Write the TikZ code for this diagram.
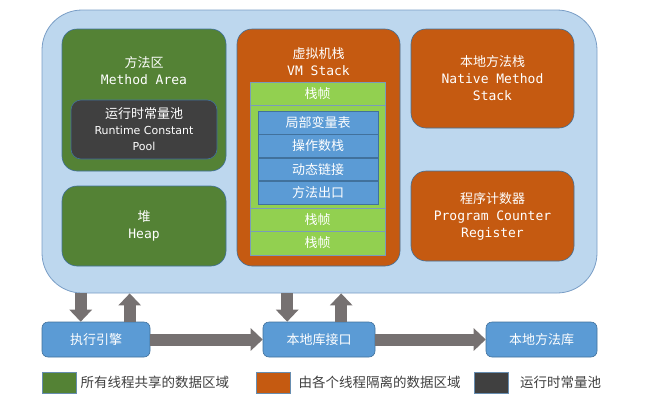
\documentclass[tikz,border=0pt]{standalone}
\usepackage{fontspec}
\usepackage{tikz}
\usetikzlibrary{arrows.meta,calc,positioning}

\newfontfamily\cjk{Noto Sans CJK SC}
\newfontfamily\mono{DejaVu Sans Mono}
\newfontfamily\verd{DejaVu Sans}

\definecolor{jvmbg}{HTML}{BDD7EE}
\definecolor{jvmline}{HTML}{7A9EC6}
\definecolor{shared}{HTML}{548235}
\definecolor{private}{HTML}{C55A11}
\definecolor{poolgray}{HTML}{404040}
\definecolor{framegreen}{HTML}{92D050}
\definecolor{slotblue}{HTML}{5B9BD5}
\definecolor{edgeblue}{HTML}{41719C}
\definecolor{arrowgray}{HTML}{767171}
\definecolor{keytext}{HTML}{3F3F3F}

\tikzset{
	area/.style={draw=edgeblue, line width=0.6pt, rounded corners=15pt, inner sep=0pt,
		text=white, align=center, font=\fontsize{13}{17}\selectfont},
	areatitle/.style={inner sep=0pt, text=white, align=center, font=\fontsize{13}{17}\selectfont},
	frame/.style={draw=edgeblue!70, line width=0.6pt, fill=framegreen, minimum width=135pt,
		inner sep=0pt, text=white, font=\cjk\fontsize{13}{16}\selectfont},
	slot/.style={draw=edgeblue, line width=0.6pt, fill=slotblue, minimum width=120pt,
		minimum height=22.75pt, inner sep=0pt, text=white, font=\cjk\fontsize{13}{16}\selectfont},
	module/.style={draw=edgeblue, line width=0.6pt, fill=slotblue, rounded corners=6pt,
		minimum height=35pt, inner sep=0pt, text=white, font=\cjk\fontsize{13}{16}\selectfont},
	flow/.style={arrowgray, line width=12pt, -{Triangle[width=22pt,length=12pt]}},
	swatch/.style={draw=edgeblue!80, line width=0.6pt, minimum width=34pt, minimum height=21pt, inner sep=0pt},
	keylabel/.style={inner sep=0pt, text=keytext, font=\cjk\fontsize{13.5}{16}\selectfont}
}

\begin{document}
\begin{tikzpicture}[x=1pt,y=-1pt]
	\useasboundingbox (0,0) rectangle (645,413);
	
	% Define the runtime data area
	\node[draw=jvmline, line width=0.8pt, fill=jvmbg, rounded corners=40pt,
		minimum width=555pt, minimum height=283pt] (jvm) at (319.5,151.5) {};
	
	% Shared areas
	\node[area, fill=shared, minimum width=164pt, minimum height=142pt] (method) at (144,100) {};
	\node[areatitle] (methodtitle) at (144,70.5) {{\cjk 方法区}\\{\mono Method Area}};
	\node[area, fill=poolgray, rounded corners=10pt, minimum width=146pt, minimum height=59pt,
		font=\fontsize{11}{16}\selectfont] (pool) at (144,129.5)
		{{\cjk\fontsize{13}{16}\selectfont 运行时常量池}\\{\verd Runtime Constant}\\{\verd Pool}};
	\node[area, fill=shared, minimum width=164pt, minimum height=80pt] (heap) at (144,226) {{\cjk 堆}\\{\mono Heap}};
	
	% Thread private areas
	\node[area, fill=private, minimum width=163pt, minimum height=237pt] (vmstack) at (318.5,147.5) {};
	\node[areatitle] (vmtitle) at (318.5,62) {{\cjk 虚拟机栈}\\{\mono VM Stack}};
	\node[frame, minimum height=23pt] (frameA) at (317.5,93.5) {栈帧};
	\node[frame, minimum height=103pt] (frameB) at (317.5,156.5) {};
	\node[slot] (locals) at (318,122.5) {局部变量表};
	\node[slot, below=0pt of locals] (operands) {操作数栈};
	\node[slot, below=0pt of operands] (dynlink) {动态链接};
	\node[slot, below=0pt of dynlink] (retaddr) {方法出口};
	\node[frame, minimum height=23pt] (frameC) at (317.5,219.5) {栈帧};
	\node[frame, minimum height=24pt] (frameD) at (317.5,243) {栈帧};
	\node[area, fill=private, minimum width=163pt, minimum height=99pt] (native) at (492.5,78.5)
		{{\cjk 本地方法栈}\\{\mono Native Method}\\{\mono Stack}};
	\node[area, fill=private, minimum width=163pt, minimum height=90pt] (pc) at (492.5,216)
		{{\cjk 程序计数器}\\{\mono Program Counter}\\{\mono Register}};
	
	% Execution engine and native interface
	\node[module, minimum width=108pt] (engine) at (96,339.5) {执行引擎};
	\node[module, minimum width=112pt] (jni) at (319,339.5) {本地库接口};
	\node[module, minimum width=111pt] (nativelib) at (541.5,339.5) {本地方法库};
	
	% Arrows
	\draw[flow] ([xshift=39pt]engine.north west |- jvm.south) -- ([xshift=39pt]engine.north west);
	\draw[flow] ([xshift=88pt]engine.north west) -- ([xshift=88pt]engine.north west |- jvm.south);
	\draw[flow] ([xshift=24.5pt]jni.north west |- jvm.south) -- ([xshift=24.5pt]jni.north west);
	\draw[flow] ([xshift=78.5pt]jni.north west) -- ([xshift=78.5pt]jni.north west |- jvm.south);
	\draw[flow] (engine.east) -- (jni.west);
	\draw[flow] (jni.east) -- (nativelib.west);
	
	% Legend
	\node[swatch, fill=shared] (keyshared) at (59,382.5) {};
	\node[keylabel, right=4pt of keyshared] (keysharedtext) {所有线程共享的数据区域};
	\node[swatch, fill=private] (keyprivate) at (273,382.5) {};
	\node[keylabel, right=8pt of keyprivate] (keyprivatetext) {由各个线程隔离的数据区域};
	\node[swatch, fill=poolgray] (keypool) at (491.5,382.5) {};
	\node[keylabel, right=11pt of keypool] (keypooltext) {运行时常量池};
	
\end{tikzpicture}
\end{document}
